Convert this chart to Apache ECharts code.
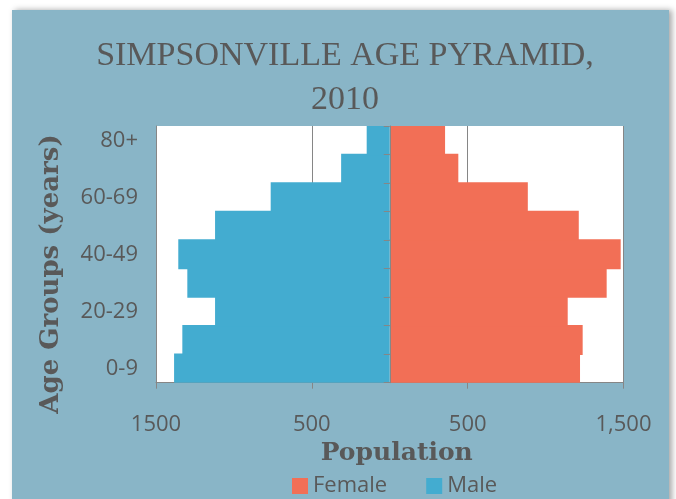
<!DOCTYPE html>
<html>
<head>
<meta charset="utf-8">
<script src="https://cdn.jsdelivr.net/npm/echarts@6/dist/echarts.min.js"></script>
<style>
  html, body { margin: 0; padding: 0; background: #fff; }
  #main { width: 676px; height: 499px; }
</style>
</head>
<body>
<div id="main"></div>
<script>
// age groups, bottom to top
const ageGroups = ['0-9', '10-19', '20-29', '30-39', '40-49', '50-59', '60-69', '70-79', '80+'];
const female = [1221, 1238, 1142, 1392, 1482, 1213, 886, 440, 355];
const male = [1384, 1331, 1121, 1299, 1357, 1121, 764, 312, 148];

const grey = '#595959';

const chart = echarts.init(document.getElementById('main'));

const option = {
  backgroundColor: '#fff',
  animation: false,
  graphic: [
    {
      type: 'rect',
      z: -10,
      shape: { x: 12, y: 10, width: 657, height: 495 },
      style: {
        fill: '#89b5c7',
        shadowBlur: 6,
        shadowOffsetX: 3,
        shadowOffsetY: 0,
        shadowColor: 'rgba(0,0,0,0.35)'
      }
    },
    {
      type: 'text',
      x: 51,
      y: 274,
      rotation: Math.PI / 2,
      style: {
        text: 'Age Groups (years)',
        font: 'bold 26px "DejaVu Serif"',
        fill: grey,
        align: 'center',
        verticalAlign: 'middle'
      }
    }
  ],
  title: {
    text: 'SIMPSONVILLE AGE PYRAMID,\n2010',
    left: 340,
    top: 29,
    textAlign: 'center',
    textStyle: {
      fontFamily: '"Liberation Serif"',
      fontWeight: 'normal',
      fontSize: 34,
      lineHeight: 44,
      color: grey
    }
  },
  legend: {
    data: ['Female', 'Male'],
    left: 292,
    top: 475,
    padding: 0,
    icon: 'rect',
    itemWidth: 16,
    itemHeight: 16,
    itemGap: 39,
    textStyle: { fontFamily: '"Open Sans"', fontSize: 22, color: grey }
  },
  grid: {
    left: 156,
    right: 52.5,
    top: 126,
    bottom: 116.3,
    show: true,
    backgroundColor: '#fff',
    borderWidth: 0
  },
  xAxis: {
    type: 'value',
    min: -1500,
    max: 1500,
    interval: 1000,
    name: 'Population',
    nameLocation: 'middle',
    nameGap: 50,
    nameTextStyle: {
      fontFamily: '"DejaVu Serif"',
      fontWeight: 'bold',
      fontSize: 25,
      color: grey,
      padding: [0, 0, 0, 14]
    },
    axisLine: { show: true, lineStyle: { color: '#868686' } },
    axisTick: { show: true, length: 6, lineStyle: { color: '#868686' } },
    splitLine: { show: true, lineStyle: { color: '#868686' } },
    axisLabel: {
      margin: 31,
      fontFamily: '"Open Sans"',
      fontSize: 22,
      color: grey,
      formatter: function (v) {
        if (v === 1500) return '1,500';
        return String(Math.abs(v));
      }
    }
  },
  yAxis: [
    {
      type: 'category',
      data: ageGroups,
      position: 'left',
      axisLine: { show: true, onZero: false, lineStyle: { color: '#868686' } },
      axisTick: { show: false },
      splitLine: { show: false },
      axisLabel: {
        interval: 1,
        margin: 18,
        fontFamily: '"Open Sans"',
        fontSize: 22,
        color: grey
      }
    },
    {
      type: 'category',
      data: ageGroups,
      position: 'right',
      z: 10,
      axisLine: { show: true, onZero: true, lineStyle: { color: '#868686' } },
      axisTick: { show: true, inside: true, length: 6, lineStyle: { color: '#868686' } },
      splitLine: { show: false },
      axisLabel: { show: false }
    }
  ],
  series: [
    {
      name: 'Female',
      type: 'bar',
      stack: 'pop',
      yAxisIndex: 0,
      barWidth: 30,
      data: female,
      itemStyle: {
        color: '#f26f56'
      }
    },
    {
      name: 'Male',
      type: 'bar',
      stack: 'pop',
      yAxisIndex: 0,
      barWidth: 30,
      data: male.map(function (v) { return -v; }),
      itemStyle: {
        color: '#43acd0'
      }
    }
  ]
};

chart.setOption(option);
</script>
</body>
</html>
